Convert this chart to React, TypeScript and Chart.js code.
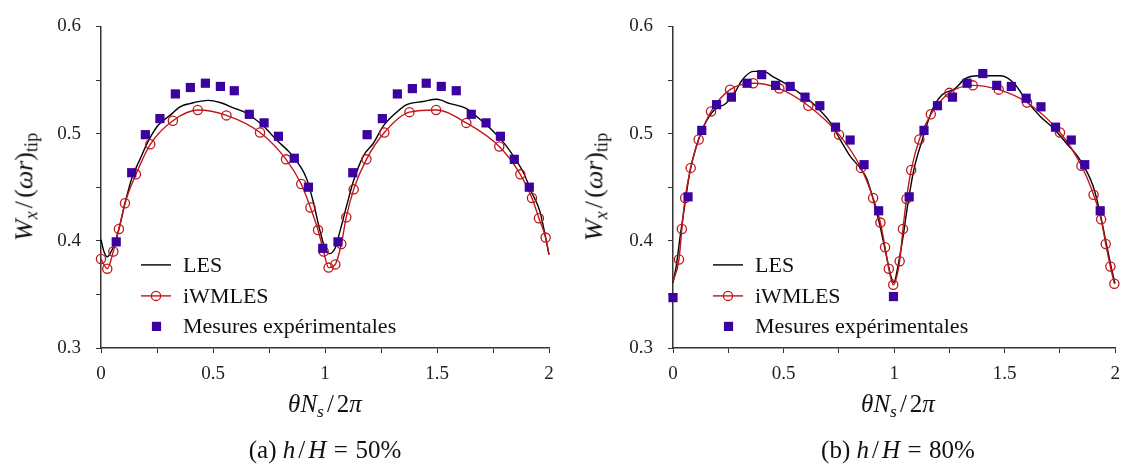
import React, { useEffect, useRef } from 'react';
import { Chart, registerables } from 'chart.js';
Chart.register(...registerables);

const FONT = '"Liberation Serif", "Times New Roman", serif';
const RED = '#c0161a';
const INDIGO = '#3b029f';
const AXIS = '#333333';

// ---------- Panel (a) h/H = 50% ----------
const LES_A_X = [0, 0.013, 0.028, 0.043, 0.058, 0.085, 0.107, 0.137, 0.174, 0.211, 0.256, 0.308, 0.353, 0.397, 0.479, 0.531, 0.591, 0.650, 0.725, 0.784, 0.844, 0.888, 0.918, 0.948, 0.978, 1.0, 1.019, 1.045, 1.067, 1.097, 1.126, 1.171, 1.216, 1.260, 1.320, 1.365, 1.439, 1.499, 1.558, 1.625, 1.677, 1.737, 1.796, 1.841, 1.885, 1.923, 1.960, 2.0];
const LES_A_Y = [0.401, 0.390, 0.385, 0.389, 0.396, 0.415, 0.435, 0.458, 0.476, 0.493, 0.508, 0.517, 0.525, 0.528, 0.531, 0.529, 0.524, 0.519, 0.507, 0.494, 0.482, 0.470, 0.458, 0.436, 0.409, 0.393, 0.388, 0.393, 0.409, 0.433, 0.455, 0.479, 0.491, 0.507, 0.520, 0.527, 0.530, 0.532, 0.528, 0.524, 0.516, 0.505, 0.492, 0.479, 0.464, 0.445, 0.427, 0.387];

const IWM_A_X = [0, 0.028, 0.055, 0.080, 0.107, 0.156, 0.220, 0.321, 0.432, 0.560, 0.710, 0.826, 0.894, 0.935, 0.969, 0.994, 1.016, 1.046, 1.073, 1.095, 1.128, 1.185, 1.265, 1.377, 1.496, 1.631, 1.778, 1.872, 1.924, 1.955, 1.985, 2.0];
const IWM_A_Y = [0.383, 0.374, 0.390, 0.411, 0.435, 0.462, 0.490, 0.512, 0.522, 0.517, 0.501, 0.476, 0.453, 0.431, 0.410, 0.390, 0.375, 0.378, 0.397, 0.422, 0.448, 0.476, 0.501, 0.520, 0.522, 0.510, 0.488, 0.462, 0.440, 0.421, 0.403, 0.387];

const EXP_A_X = [0.068, 0.137, 0.198, 0.263, 0.332, 0.399, 0.466, 0.533, 0.595, 0.662, 0.728, 0.792, 0.863, 0.926, 0.990, 1.058, 1.124, 1.188, 1.256, 1.323, 1.390, 1.452, 1.519, 1.586, 1.653, 1.719, 1.783, 1.845, 1.912];
const EXP_A_Y = [0.399, 0.4635, 0.499, 0.514, 0.537, 0.543, 0.547, 0.544, 0.540, 0.518, 0.510, 0.4975, 0.477, 0.450, 0.393, 0.399, 0.4635, 0.499, 0.514, 0.537, 0.542, 0.547, 0.544, 0.540, 0.518, 0.510, 0.4975, 0.476, 0.450];

// ---------- Panel (b) h/H = 80% ----------
const LES_B_X = [0, 0.016, 0.031, 0.053, 0.076, 0.105, 0.142, 0.187, 0.239, 0.276, 0.313, 0.364, 0.409, 0.453, 0.505, 0.564, 0.639, 0.713, 0.757, 0.801, 0.846, 0.876, 0.905, 0.935, 0.964, 0.987, 0.999, 1.016, 1.039, 1.061, 1.090, 1.127, 1.172, 1.216, 1.276, 1.320, 1.379, 1.483, 1.542, 1.601, 1.661, 1.720, 1.779, 1.839, 1.898, 1.927, 1.957, 1.979, 1.999];
const LES_B_Y = [0.361, 0.378, 0.402, 0.433, 0.464, 0.488, 0.508, 0.522, 0.528, 0.537, 0.550, 0.558, 0.558, 0.553, 0.547, 0.539, 0.527, 0.510, 0.494, 0.479, 0.468, 0.458, 0.439, 0.415, 0.387, 0.366, 0.361, 0.375, 0.402, 0.433, 0.467, 0.494, 0.522, 0.536, 0.542, 0.551, 0.554, 0.554, 0.547, 0.530, 0.516, 0.505, 0.491, 0.476, 0.452, 0.430, 0.400, 0.378, 0.360];

const IWM_B_X = [0, 0.027, 0.040, 0.055, 0.080, 0.116, 0.172, 0.258, 0.363, 0.481, 0.612, 0.751, 0.850, 0.905, 0.938, 0.959, 0.976, 0.996, 1.025, 1.040, 1.056, 1.077, 1.114, 1.166, 1.250, 1.356, 1.473, 1.601, 1.750, 1.847, 1.902, 1.936, 1.957, 1.978, 1.996];
const IWM_B_Y = [0.362, 0.3825, 0.411, 0.440, 0.468, 0.4945, 0.5206, 0.541, 0.547, 0.542, 0.526, 0.499, 0.468, 0.440, 0.417, 0.394, 0.374, 0.359, 0.381, 0.411, 0.439, 0.466, 0.4945, 0.518, 0.538, 0.545, 0.541, 0.529, 0.501, 0.470, 0.443, 0.420, 0.397, 0.376, 0.360];

const EXP_B_X = [0, 0.068, 0.130, 0.197, 0.264, 0.335, 0.401, 0.464, 0.530, 0.597, 0.664, 0.735, 0.801, 0.864, 0.930, 0.997, 1.068, 1.135, 1.196, 1.264, 1.330, 1.401, 1.464, 1.530, 1.597, 1.664, 1.730, 1.801, 1.862, 1.932];
const EXP_B_Y = [0.347, 0.441, 0.503, 0.527, 0.534, 0.547, 0.555, 0.545, 0.544, 0.534, 0.526, 0.506, 0.494, 0.471, 0.428, 0.348, 0.441, 0.503, 0.526, 0.534, 0.547, 0.556, 0.545, 0.544, 0.533, 0.525, 0.506, 0.494, 0.471, 0.428];

const LEGEND_LABELS = ['LES', 'iWMLES', 'Mesures expérimentales'];
const X_TICK_LABELS = ['0', '0.5', '1', '1.5', '2'];
const Y_TICK_LABELS = ['0.3', '0.4', '0.5', '0.6'];
const CAPTIONS = ['(a)', '(b)'];
const PERCENTS = ['50%', '80%'];

const pts = (xs: number[], ys: number[]) => xs.map((x, i) => ({ x, y: ys[i] }));

const legendPlugin = {
  id: 'customLegend',
  afterDraw(chart: any) {
    const { ctx, chartArea } = chart;
    const l = chartArea.left;
    const t = chartArea.top;
    const rows = [t + 238.5, t + 269.5, t + 300];
    ctx.save();
    ctx.strokeStyle = '#000';
    ctx.lineWidth = 1.4;
    ctx.beginPath();
    ctx.moveTo(l + 40, rows[0]);
    ctx.lineTo(l + 70, rows[0]);
    ctx.stroke();
    ctx.strokeStyle = RED;
    ctx.beginPath();
    ctx.moveTo(l + 40, rows[1]);
    ctx.lineTo(l + 70, rows[1]);
    ctx.stroke();
    ctx.lineWidth = 1.3;
    ctx.beginPath();
    ctx.arc(l + 55, rows[1], 4.6, 0, Math.PI * 2);
    ctx.stroke();
    ctx.fillStyle = INDIGO;
    ctx.fillRect(l + 55.5 - 4.6, rows[2] - 4.6, 9.2, 9.2);
    ctx.fillStyle = '#111';
    ctx.font = `22px ${FONT}`;
    ctx.textBaseline = 'middle';
    ctx.textAlign = 'left';
    LEGEND_LABELS.forEach((lab, i) => ctx.fillText(lab, l + 82, rows[i] + 1));
    ctx.restore();
  },
};

type PanelProps = {
  les: { x: number; y: number }[];
  iwm: { x: number; y: number }[];
  exp: { x: number; y: number }[];
  yWidth: number;
  padRight: number;
  hideFirstMarker: boolean;
  hideLastMarker: boolean;
};

function Panel(props: PanelProps) {
  const ref = useRef<HTMLCanvasElement | null>(null);
  useEffect(() => {
    if (!ref.current) return;
    const nI = props.iwm.length;
    const chart = new Chart(ref.current, {
      type: 'scatter',
      data: {
        datasets: [
          {
            label: LEGEND_LABELS[2],
            data: props.exp,
            showLine: false,
            pointStyle: 'rect',
            pointRadius: 6.5,
            pointBackgroundColor: INDIGO,
            pointBorderWidth: 0,
            pointBorderColor: INDIGO,
            clip: false,
          } as any,
          {
            label: LEGEND_LABELS[1],
            data: props.iwm,
            showLine: true,
            borderColor: RED,
            borderWidth: 1.4,
            cubicInterpolationMode: 'monotone',
            pointStyle: 'circle',
            pointRadius: (c: any) =>
              (props.hideFirstMarker && c.dataIndex === 0) || (props.hideLastMarker && c.dataIndex === nI - 1) ? 0 : 4.6,
            pointBorderColor: RED,
            pointBackgroundColor: 'rgba(0,0,0,0)',
            pointBorderWidth: 1.3,
            clip: false,
          },
          {
            label: LEGEND_LABELS[0],
            data: props.les,
            showLine: true,
            borderColor: '#000',
            borderWidth: 1.4,
            cubicInterpolationMode: 'monotone',
            pointRadius: 0,
            clip: false,
          },
        ],
      },
      options: {
        animation: false,
        responsive: false,
        devicePixelRatio: 1,
        layout: { padding: { left: 0, right: props.padRight, top: 22, bottom: 0 } },
        plugins: { legend: { display: false }, tooltip: { enabled: false } },
        scales: {
          x: {
            type: 'linear',
            min: 0,
            max: 2,
            afterFit: (s: any) => { s.height = 119; },
            ticks: {
              stepSize: 0.25,
              autoSkip: false,
              maxRotation: 0,
              padding: 10,
              color: '#222',
              font: { family: FONT, size: 19 },
              callback: (v: any) => {
                const k = Math.round(Number(v) * 2);
                return Math.abs(Number(v) * 2 - k) < 1e-6 ? X_TICK_LABELS[k] : '';
              },
            },
            grid: { drawOnChartArea: false, drawTicks: true, tickLength: 5, color: AXIS, lineWidth: 1 },
            border: { display: true, color: AXIS, width: 1.5 },
          },
          y: {
            type: 'linear',
            min: 0.3,
            max: 0.6,
            afterFit: (s: any) => { s.width = props.yWidth; },
            ticks: {
              stepSize: 0.05,
              autoSkip: false,
              padding: 15,
              color: '#222',
              font: { family: FONT, size: 19 },
              callback: (v: any) => {
                const k = Math.round(Number(v) * 10) - 3;
                return Math.abs(Number(v) * 10 - (k + 3)) < 1e-6 ? Y_TICK_LABELS[k] : '';
              },
            },
            grid: { drawOnChartArea: false, drawTicks: true, tickLength: 5, color: AXIS, lineWidth: 1 },
            border: { display: true, color: AXIS, width: 1.5 },
          },
        },
      },
      plugins: [legendPlugin],
    });
    return () => chart.destroy();
  }, []);
  return <canvas ref={ref} width={565} height={467} />;
}

const sub: React.CSSProperties = { fontSize: '0.7em', verticalAlign: '-0.28em' };
const op: React.CSSProperties = { margin: '0 0.12em' };
const eq: React.CSSProperties = { margin: '0 0.3em' };

function YTitle({ cx }: { cx: number }) {
  return (
    <div
      style={{
        position: 'absolute',
        left: cx,
        top: 187,
        transform: 'translate(-50%, -50%) rotate(-90deg)',
        whiteSpace: 'nowrap',
        fontFamily: FONT,
        fontSize: 26,
        color: '#111',
        lineHeight: 1,
      }}
    >
      <i>W</i><span style={sub}><i>x</i></span><span style={op}>/</span>(<i>ω</i><i>r</i>)<span style={sub}>tip</span>
    </div>
  );
}

function XTitle({ cx }: { cx: number }) {
  return (
    <div
      style={{
        position: 'absolute',
        left: cx,
        top: 406,
        transform: 'translate(-50%, -50%)',
        whiteSpace: 'nowrap',
        fontFamily: FONT,
        fontSize: 25,
        color: '#111',
        lineHeight: 1,
      }}
    >
      <i>θ</i><i>N</i><span style={sub}><i>s</i></span><span style={op}>/</span>2<i>π</i>
    </div>
  );
}

function Caption({ cx, i }: { cx: number; i: number }) {
  return (
    <div
      style={{
        position: 'absolute',
        left: cx,
        top: 449,
        transform: 'translate(-50%, -50%)',
        whiteSpace: 'nowrap',
        fontFamily: FONT,
        fontSize: 25,
        color: '#111',
        lineHeight: 1,
      }}
    >
      {CAPTIONS[i]} <i>h</i><span style={op}>/</span><i>H</i><span style={eq}>=</span>{PERCENTS[i]}
    </div>
  );
}

export default function App() {
  return (
    <div style={{ position: 'absolute', left: 0, top: 0, width: 1130, height: 467, background: '#fff', overflow: 'hidden' }}>
      <div style={{ position: 'absolute', left: 0, top: 0 }}>
        <Panel
          les={pts(LES_A_X, LES_A_Y)}
          iwm={pts(IWM_A_X, IWM_A_Y)}
          exp={pts(EXP_A_X, EXP_A_Y)}
          yWidth={101}
          padRight={16}
          hideFirstMarker={false}
          hideLastMarker={true}
        />
      </div>
      <div style={{ position: 'absolute', left: 565, top: 0 }}>
        <Panel
          les={pts(LES_B_X, LES_B_Y)}
          iwm={pts(IWM_B_X, IWM_B_Y)}
          exp={pts(EXP_B_X, EXP_B_Y)}
          yWidth={108}
          padRight={7}
          hideFirstMarker={true}
          hideLastMarker={false}
        />
      </div>
      <YTitle cx={26} />
      <YTitle cx={596} />
      <XTitle cx={325} />
      <XTitle cx={898} />
      <Caption cx={325} i={0} />
      <Caption cx={898} i={1} />
    </div>
  );
}
